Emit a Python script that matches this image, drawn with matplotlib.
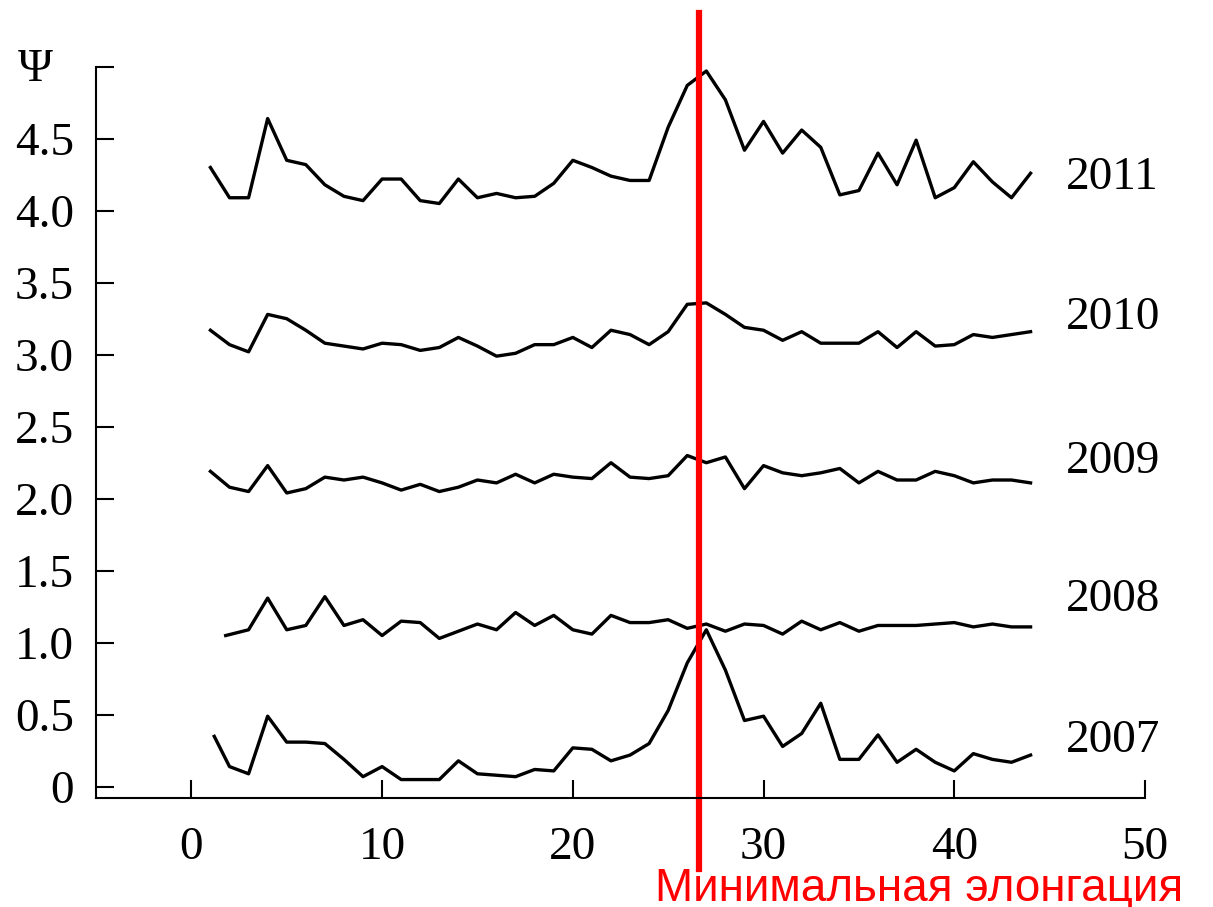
import matplotlib
matplotlib.use("Agg")
import matplotlib.pyplot as plt

# Psi index by day, one curve per year (already offset by one unit per year)
days = list(range(1, 45))

psi_2011 = [4.30, 4.09, 4.09, 4.64, 4.35, 4.32, 4.18, 4.10, 4.07, 4.22,
            4.22, 4.07, 4.05, 4.22, 4.09, 4.12, 4.09, 4.10, 4.19, 4.35,
            4.30, 4.24, 4.21, 4.21, 4.58, 4.87, 4.97, 4.77, 4.42, 4.62,
            4.40, 4.56, 4.44, 4.11, 4.14, 4.40, 4.18, 4.49, 4.09, 4.16,
            4.34, 4.20, 4.09, 4.26]

psi_2010 = [3.17, 3.07, 3.02, 3.28, 3.25, 3.17, 3.08, 3.06, 3.04, 3.08,
            3.07, 3.03, 3.05, 3.12, 3.06, 2.99, 3.01, 3.07, 3.07, 3.12,
            3.05, 3.17, 3.14, 3.07, 3.16, 3.35, 3.36, 3.28, 3.19, 3.17,
            3.10, 3.16, 3.08, 3.08, 3.08, 3.16, 3.05, 3.16, 3.06, 3.07,
            3.14, 3.12, 3.14, 3.16]

psi_2009 = [2.19, 2.08, 2.05, 2.23, 2.04, 2.07, 2.15, 2.13, 2.15, 2.11,
            2.06, 2.10, 2.05, 2.08, 2.13, 2.11, 2.17, 2.11, 2.17, 2.15,
            2.14, 2.25, 2.15, 2.14, 2.16, 2.30, 2.25, 2.29, 2.07, 2.23,
            2.18, 2.16, 2.18, 2.21, 2.11, 2.19, 2.13, 2.13, 2.19, 2.16,
            2.11, 2.13, 2.13, 2.11]

days_2008 = [1.8] + list(range(3, 45))
psi_2008 = [1.05, 1.09, 1.31, 1.09, 1.12, 1.32, 1.12, 1.16, 1.05, 1.15,
            1.14, 1.03, 1.08, 1.13, 1.09, 1.21, 1.12, 1.19, 1.09, 1.06,
            1.19, 1.14, 1.14, 1.16, 1.10, 1.13, 1.08, 1.13, 1.12, 1.06,
            1.15, 1.09, 1.14, 1.08, 1.12, 1.12, 1.12, 1.13, 1.14, 1.11,
            1.13, 1.11, 1.11]

days_2007 = [1.2] + list(range(2, 45))
psi_2007 = [0.35, 0.14, 0.09, 0.49, 0.31, 0.31, 0.30, 0.19, 0.07, 0.14,
            0.05, 0.05, 0.05, 0.18, 0.09, 0.08, 0.07, 0.12, 0.11, 0.27,
            0.26, 0.18, 0.22, 0.30, 0.53, 0.86, 1.09, 0.81, 0.46, 0.49,
            0.28, 0.37, 0.58, 0.19, 0.19, 0.36, 0.17, 0.26, 0.17, 0.11,
            0.23, 0.19, 0.17, 0.22]

years = ["2011", "2010", "2009", "2008", "2007"]
year_label_y = [4.23, 3.26, 2.26, 1.30, 0.32]

min_elongation_day = 26.6

serif = ["Liberation Serif", "DejaVu Serif"]

fig = plt.figure(figsize=(12.13, 9.07), dpi=100)
ax = fig.add_axes([96 / 1213, 1 - 797.7 / 907, (1145 - 96) / 1213, (797.7 - 66.7) / 907])

series = [(days, psi_2011), (days, psi_2010), (days, psi_2009),
          (days_2008, psi_2008), (days_2007, psi_2007)]
for xs, ys in series:
    ax.plot(xs, ys, color="black", lw=2.4, solid_joinstyle="round")

for name, yl in zip(years, year_label_y):
    ax.text(48.3, yl, name, ha="center", va="center", fontsize=34,
            family=serif, clip_on=False)

ax.set_xlim(-5, 50)
ax.set_ylim(-0.076, 5.0)

yt = [i * 0.5 for i in range(11)]
ax.set_yticks(yt)
ax.set_yticklabels(["0"] + [f"{v:.1f}" for v in yt[1:-1]] + [""])
ax.set_xticks(range(0, 51, 10))

for s in ["top", "right"]:
    ax.spines[s].set_visible(False)
for s in ["left", "bottom"]:
    ax.spines[s].set_linewidth(1.5)

ax.tick_params(direction="in", length=13, width=1.5, labelsize=34, pad=16)
ax.tick_params(axis="x", pad=21)
for lab in ax.get_xticklabels() + ax.get_yticklabels():
    lab.set_family(serif)

fig.text(35 / 1213, 1 - 70 / 907, "Ψ", ha="center", va="center",
         fontsize=34, family=serif)

# minimum elongation marker
ax.axvline(min_elongation_day, ymin=-0.097, ymax=1.074, color="red",
           lw=4.5, clip_on=False)
fig.text(655 / 1213, 1 - 901 / 907, "Минимальная элонгация", color="red",
         fontsize=33, family=["Liberation Sans", "DejaVu Sans"],
         ha="left", va="baseline")

fig.savefig("out.png", dpi=100)
